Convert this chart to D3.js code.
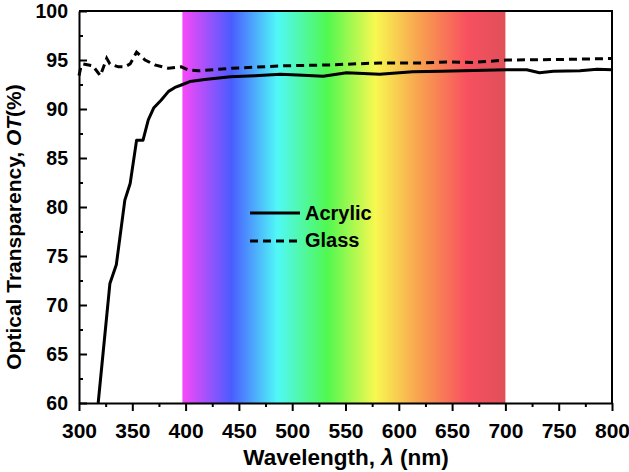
<!DOCTYPE html>
<html>
<head>
<meta charset="utf-8">
<script src="https://d3js.org/d3.v7.min.js"></script>
<style>
  body { margin: 0; background: #fff; }
  svg { display: block; font-family: "Liberation Sans", Arial, sans-serif; font-weight: bold; }
  .axis path, .axis line { stroke: #000; stroke-width: 2px; }
  .axis text { font-weight: bold; fill: #000; font-family: "Liberation Sans", Arial, sans-serif; }
  .xaxis text { font-size: 21px; }
  .yaxis text { font-size: 19.5px; }
</style>
</head>
<body>
<svg id="chart" width="629" height="472"></svg>
<script>
// acrylic sample
var acrylicWl = [318, 329, 335, 343, 348, 354, 360, 365, 370, 377, 384, 390, 396, 404, 418, 442, 465, 489, 510, 529, 551, 582, 613, 640, 660, 680, 701, 720, 732, 745, 770, 786, 800];
var acrylicOT = [60, 72.2, 74.1, 80.7, 82.4, 86.8, 86.8, 88.9, 90.1, 90.9, 91.8, 92.2, 92.45, 92.8, 93.0, 93.3, 93.4, 93.55, 93.45, 93.35, 93.7, 93.55, 93.8, 93.85, 93.9, 93.95, 94.0, 94.0, 93.7, 93.85, 93.9, 94.05, 94.0];
// glass reference
var glassWl = [300, 302, 304, 313, 320, 326, 329, 337, 343, 348, 354, 362, 371, 384, 396, 402, 412, 442, 489, 535, 582, 620, 645, 670, 701, 750, 800];
var glassOT = [93.4, 94.4, 94.6, 94.4, 93.4, 95.17, 94.6, 94.3, 94.3, 94.6, 95.8, 95.0, 94.5, 94.15, 94.3, 94.0, 93.9, 94.15, 94.4, 94.5, 94.7, 94.7, 94.8, 94.75, 95.0, 95.05, 95.15];

// visible band
var bandRange = [397, 700];
var bandStops = [397, 443, 486, 533, 578, 620, 664, 700];
var bandColors = ["#f848f8", "#4a5cff", "#50f8f8", "#50f850", "#f8f850", "#f8a050", "#f85060", "#e05058"];

var xTicks = [300, 350, 400, 450, 500, 550, 600, 650, 700, 750, 800];
var yTicks = [60, 65, 70, 75, 80, 85, 90, 95, 100];

var svg = d3.select("#chart");
var mLeft = 79, mRight = 612, mTop = 11, mBottom = 403;

var x = d3.scaleLinear().domain([300, 800]).range([mLeft, mRight]);
var y = d3.scaleLinear().domain([60, 100]).range([mBottom, mTop]);

// spectrum gradient
var grad = svg.append("defs").append("linearGradient")
    .attr("id", "spec")
    .attr("gradientUnits", "userSpaceOnUse")
    .attr("x1", x(bandRange[0])).attr("x2", x(bandRange[1]))
    .attr("y1", 0).attr("y2", 0);
grad.selectAll("stop")
    .data(bandStops)
    .enter().append("stop")
    .attr("offset", function (d) { return (d - bandRange[0]) / (bandRange[1] - bandRange[0]); })
    .attr("stop-color", function (d, i) { return bandColors[i]; });

svg.append("rect")
    .attr("x", x(bandRange[0]))
    .attr("y", mTop)
    .attr("width", x(bandRange[1]) - x(bandRange[0]))
    .attr("height", mBottom - mTop)
    .attr("fill", "url(#spec)");

// lines
var line = d3.line()
    .x(function (d) { return x(d[0]); })
    .y(function (d) { return y(d[1]); });

svg.append("path")
    .datum(d3.zip(acrylicWl, acrylicOT))
    .attr("d", line)
    .attr("fill", "none")
    .attr("stroke", "#000")
    .attr("stroke-width", 3)
    .attr("stroke-linejoin", "round");

svg.append("path")
    .datum(d3.zip(glassWl, glassOT))
    .attr("d", line)
    .attr("fill", "none")
    .attr("stroke", "#000")
    .attr("stroke-width", 3)
    .attr("stroke-dasharray", "8,5");

// axes
var xMinor = d3.range(325, 800, 50);
var yMinor = d3.range(62.5, 100, 5);

svg.append("g").attr("class", "axis")
    .attr("transform", "translate(0," + mBottom + ")")
    .call(d3.axisBottom(x).tickValues(xMinor).tickSize(4).tickFormat(""))
    .select(".domain").remove();
svg.append("g").attr("class", "axis xaxis")
    .attr("transform", "translate(0," + mBottom + ")")
    .call(d3.axisBottom(x).tickValues(xTicks).tickSizeInner(8).tickSizeOuter(0).tickPadding(12).tickFormat(d3.format("d")));

svg.append("g").attr("class", "axis")
    .attr("transform", "translate(" + mLeft + ",0)")
    .call(d3.axisLeft(y).tickValues(yMinor).tickSize(-4).tickFormat(""))
    .select(".domain").remove();
svg.append("g").attr("class", "axis yaxis")
    .attr("transform", "translate(" + mLeft + ",0)")
    .call(d3.axisLeft(y).tickValues(yTicks).tickSizeInner(-8).tickSizeOuter(0).tickPadding(11).tickFormat(d3.format("d")));

// top and right frame
svg.append("path")
    .attr("d", "M" + mLeft + "," + mTop + "H" + mRight + "V" + mBottom)
    .attr("fill", "none")
    .attr("stroke", "#000")
    .attr("stroke-width", 2);

// legend
var legend = svg.append("g");
legend.append("line")
    .attr("x1", 250).attr("x2", 300).attr("y1", 213).attr("y2", 213)
    .attr("stroke", "#000").attr("stroke-width", 3);
legend.append("line")
    .attr("x1", 250).attr("x2", 300).attr("y1", 241).attr("y2", 241)
    .attr("stroke", "#000").attr("stroke-width", 3).attr("stroke-dasharray", "8,5");
legend.append("text").attr("x", 305).attr("y", 220).attr("font-size", 20).text("Acrylic");
legend.append("text").attr("x", 305).attr("y", 247).attr("font-size", 20).text("Glass");

// axis titles
var xt = svg.append("text")
    .attr("x", 346)
    .attr("y", 465)
    .attr("text-anchor", "middle")
    .attr("font-size", 22.5);
xt.append("tspan").text("Wavelength, ");
xt.append("tspan").attr("font-style", "italic").text("λ");
xt.append("tspan").text(" (nm)");

var yt = svg.append("text")
    .attr("transform", "translate(21,227) rotate(-90)")
    .attr("text-anchor", "middle")
    .attr("font-size", 21);
yt.append("tspan").text("Optical Transparency, ");
yt.append("tspan").attr("font-style", "italic").text("OT");
yt.append("tspan").text("(%)");
</script>
</body>
</html>
